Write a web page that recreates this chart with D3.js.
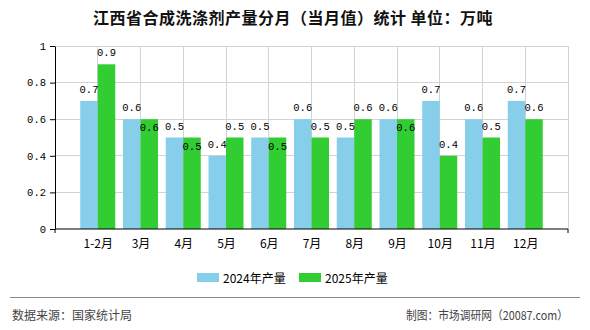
<!DOCTYPE html>
<html><head><meta charset="utf-8">
<script src="https://cdn.jsdelivr.net/npm/d3@7"></script>
<style>body{margin:0;background:#fff}svg{display:block}</style>
</head><body>
<svg id="c" width="590" height="330"></svg>
<script>
const categories = ["1-2月","3月","4月","5月","6月","7月","8月","9月","10月","11月","12月"];
const values2024 = [0.7,0.6,0.5,0.4,0.5,0.6,0.5,0.6,0.7,0.6,0.7];
const values2025 = [0.9,0.6,0.5,0.5,0.5,0.5,0.6,0.6,0.4,0.5,0.6];
const yTicks = [0,0.2,0.4,0.6,0.8,1];
const seriesNames = ["2024年产量","2025年产量"];
const colors = ["#87CEEB","#32CD32"];
const title = "江西省合成洗涤剂产量分月（当月值）统计 单位：万吨";

const svg = d3.select("#c");
const L = 55, R = 568, T = 46, B = 229;
const x = d3.scalePoint().domain(categories).range([L, R]).padding(1);
const y = d3.scaleLinear().domain([0, 1]).range([B, T]);
const bw = 17.5;
const numFont = "'Liberation Mono','DejaVu Sans Mono',monospace";
const cjk = "'Noto Sans CJK SC','Noto Sans',sans-serif";

svg.append("text").attr("x", 293).attr("y", 24).attr("text-anchor", "middle")
  .attr("font-family", cjk).attr("font-size", 16).attr("font-weight", "bold")
  .attr("letter-spacing", "0.5px").attr("fill", "#111").text(title);

// grid
const g = svg.append("g");
g.selectAll("line.h").data(yTicks.filter(d => d > 0)).join("line")
  .attr("x1", L).attr("x2", R).attr("y1", d => y(d)).attr("y2", d => y(d))
  .attr("stroke", "#d3d3d3").attr("stroke-width", 1).attr("shape-rendering", "crispEdges");
g.selectAll("line.v").data(categories).join("line")
  .attr("x1", d => x(d)).attr("x2", d => x(d)).attr("y1", T).attr("y2", B)
  .attr("stroke", "#d3d3d3").attr("shape-rendering", "crispEdges");
g.append("line").attr("x1", R).attr("x2", R).attr("y1", T).attr("y2", B)
  .attr("stroke", "#d3d3d3").attr("shape-rendering", "crispEdges");

// bars
const data = categories.map((c, i) => ({c, a: values2024[i], b: values2025[i]}));
svg.append("g").selectAll("rect").data(data).join("rect")
  .attr("x", d => x(d.c) - bw).attr("width", bw)
  .attr("y", d => y(d.a)).attr("height", d => B - y(d.a)).attr("fill", colors[0]);
svg.append("g").selectAll("rect").data(data).join("rect")
  .attr("x", d => x(d.c)).attr("width", bw)
  .attr("y", d => y(d.b)).attr("height", d => B - y(d.b)).attr("fill", colors[1]);

// value labels
const lab = svg.append("g").attr("font-family", numFont).attr("font-size", 10.5).attr("fill", "#000").attr("text-anchor", "middle");
lab.selectAll("text.a").data(data).join("text")
  .attr("x", d => x(d.c) - bw / 2).attr("y", d => y(d.a) - 8).text(d => d3.format(".1f")(d.a));
lab.selectAll("text.b").data(data).join("text")
  .attr("x", d => x(d.c) + bw / 2).attr("y", d => d.a === d.b ? y(d.b) + 12 : y(d.b) - 8)
  .text(d => d3.format(".1f")(d.b));

// axes
const ya = svg.append("g").attr("transform", `translate(${L},0)`)
  .call(d3.axisLeft(y).tickValues(yTicks).tickSize(5).tickSizeOuter(0).tickFormat(d => d === 0 || d === 1 ? d3.format("d")(d) : d3.format(".1f")(d)));
ya.select(".domain").attr("stroke", "#000");
ya.selectAll("text").attr("font-family", numFont).attr("font-size", 10.5).attr("fill", "#000").attr("x", -9);

const xa = svg.append("g").attr("transform", `translate(0,${B})`)
  .call(d3.axisBottom(x).tickSize(0).tickSizeOuter(4).tickPadding(10));
xa.select(".domain").attr("stroke", "#000").attr("d", `M${L},4V0H${R}V4`);
xa.selectAll("text").attr("font-family", cjk).attr("font-size", 12).attr("fill", "#000");

// legend
const lg = svg.append("g");
const lx = [197, 299];
seriesNames.forEach((n, i) => {
  lg.append("rect").attr("x", lx[i]).attr("y", 273).attr("width", 22).attr("height", 9).attr("fill", colors[i]);
  lg.append("text").attr("x", lx[i] + 26).attr("y", 283).attr("font-family", cjk).attr("font-size", 12).attr("fill", "#000").text(n);
});

// footer
svg.append("line").attr("x1", 10).attr("x2", 580).attr("y1", 297.5).attr("y2", 297.5).attr("stroke", "#888");
svg.append("text").attr("x", 12).attr("y", 320).attr("font-family", cjk).attr("font-size", 12).attr("fill", "#444").text("数据来源：国家统计局");
svg.append("text").attr("x", 406).attr("y", 320).attr("textLength", 162).attr("lengthAdjust", "spacingAndGlyphs")
  .attr("font-family", cjk).attr("font-size", 12).attr("fill", "#444").text("制图：市场调研网（20087.com）");
</script>
</body></html>
